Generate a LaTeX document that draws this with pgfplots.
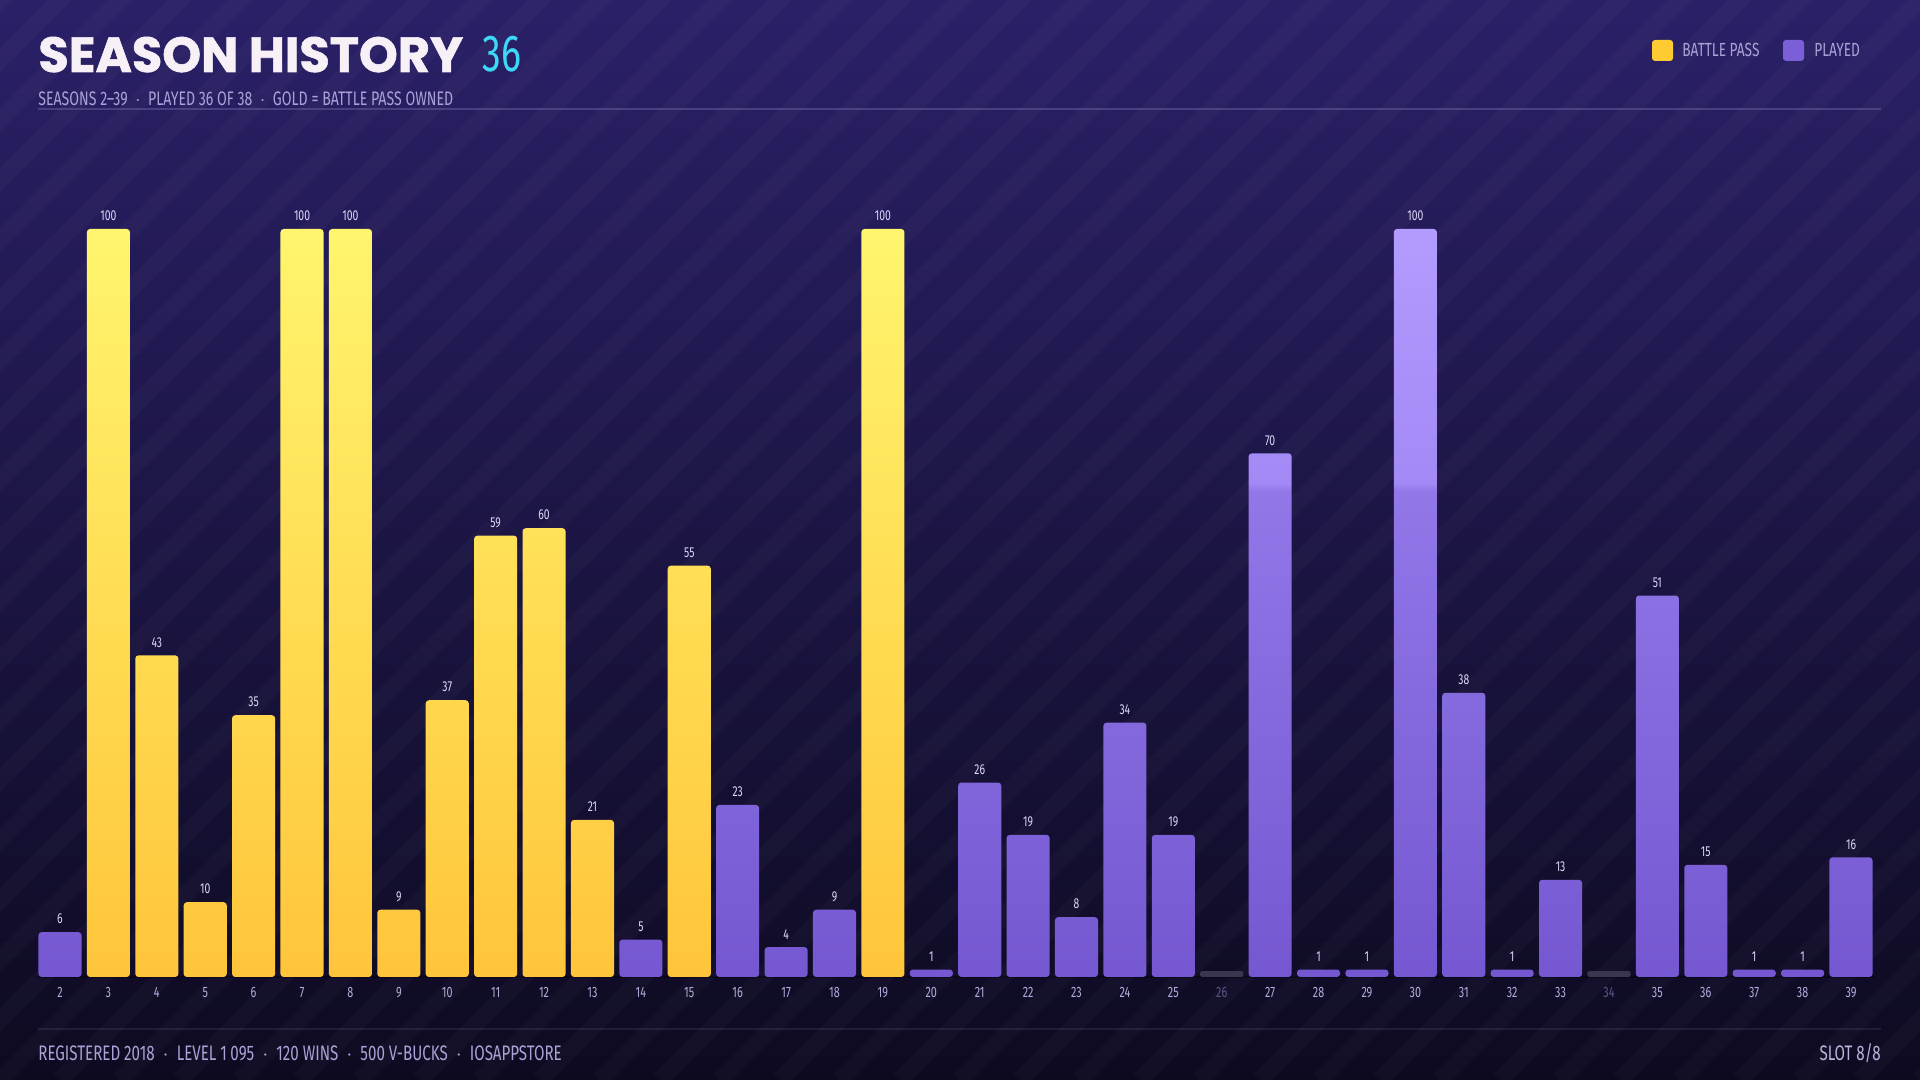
\documentclass[border=0pt]{standalone}
\usepackage{pgfplots}
\pgfplotsset{compat=1.18}
\usepackage{fontspec}
\setmainfont{Fira Sans}
\newfontfamily\cond{Fira Sans}[FakeStretch=0.72]
\newfontfamily\titlefont{Poppins}[FakeBold=1.2]
\definecolor{bgtop}{HTML}{2A2068}
\definecolor{bgbot}{HTML}{0D0A20}
\definecolor{goldT}{HTML}{FFF56E}
\definecolor{goldB}{HTML}{FFC53A}
\definecolor{purT}{HTML}{B39BFF}
\definecolor{purM}{HTML}{A389F5}
\definecolor{purL}{HTML}{9177E8}
\definecolor{purB}{HTML}{7558D1}
\definecolor{cyanT}{HTML}{3DD8F5}
\definecolor{subtxt}{HTML}{A9A2D6}
\definecolor{ticktxt}{HTML}{B3ACDB}
\definecolor{dimtxt}{HTML}{5C5685}
\definecolor{valtxt}{HTML}{DCD6F7}
\definecolor{legG}{HTML}{FFCB33}
\definecolor{legP}{HTML}{7B5FD8}
\definecolor{unplayed}{HTML}{3A3550}
\pgfdeclareverticalshading{purplebar}{100bp}{color(0bp)=(purB); color(25bp)=(purB); color(57.5bp)=(purL); color(58bp)=(purM); color(75bp)=(purT); color(100bp)=(purT)}
\pgfdeclareverticalshading{goldbar}{100bp}{color(0bp)=(goldB); color(25bp)=(goldB); color(75bp)=(goldT); color(100bp)=(goldT)}
\begin{document}
\begin{tikzpicture}
\useasboundingbox (0,0) rectangle (960pt,540pt);
\fill[top color=bgtop, bottom color=bgbot] (0,0) rectangle (960pt,540pt);
\begin{scope}
\clip (0,0) rectangle (960pt,540pt);
\foreach \i in {-20,...,34} {
  \draw[white, opacity=0.025, line width=9pt] (\i*30pt,0) -- ++(560pt,560pt);
}
\end{scope}
% header
\node[anchor=base west, inner sep=0, text=white!94!violet] at (19pt,504pt) {\titlefont\bfseries\fontsize{24.7}{25}\selectfont SEASON HISTORY};
\node[anchor=base west, inner sep=0, text=cyanT] at (241pt,504pt) {\cond\fontsize{26}{26}\selectfont 36};
\node[anchor=base west, inner sep=0, text=subtxt] at (19pt,487pt) {\cond\fontsize{9.8}{10}\selectfont SEASONS 2–39 \ $\cdot$ \ PLAYED 36 OF 38 \ $\cdot$ \ GOLD = BATTLE PASS OWNED};
\draw[subtxt, opacity=0.25, line width=0.6pt] (19pt,485.5pt) -- (940.5pt,485.5pt);
% legend
\fill[legG, rounded corners=1.5pt] (826pt,509.5pt) rectangle (836.5pt,520pt);
\node[anchor=west, inner sep=0, text=subtxt] at (841pt,515pt) {\cond\fontsize{9.5}{10}\selectfont BATTLE PASS};
\fill[legP, rounded corners=1.5pt] (891.5pt,509.5pt) rectangle (902pt,520pt);
\node[anchor=west, inner sep=0, text=subtxt] at (907pt,515pt) {\cond\fontsize{9.5}{10}\selectfont PLAYED};
% footer
\draw[subtxt, opacity=0.12, line width=0.6pt] (19pt,25.5pt) -- (940.5pt,25.5pt);
\node[anchor=west, inner sep=0, text=subtxt] at (19pt,13.5pt) {\cond\fontsize{10.5}{11}\selectfont REGISTERED 2018 \ $\cdot$ \ LEVEL 1\,095 \ $\cdot$ \ 120 WINS \ $\cdot$ \ 500 V-BUCKS \ $\cdot$ \ IOSAPPSTORE};
\node[anchor=east, inner sep=0, text=subtxt!80] at (940.5pt,13.5pt) {\cond\fontsize{10.5}{11}\selectfont SLOT 8/8};
\begin{axis}[
  at={(17.9pt,51.5pt)}, anchor=south west,
  scale only axis, width=919.7pt, height=374pt,
  xmin=1.5, xmax=39.5, ymin=0, ymax=100,
  clip=false,
  axis x line=bottom, axis y line=none,
  axis line style={draw=black, opacity=0.35, line width=1pt, -},
  ybar, bar width=0.89, bar shift=0pt,
  xtick={2,...,39},
  xticklabels={2,3,4,5,6,7,8,9,10,11,12,13,14,15,16,17,18,19,20,21,22,23,24,25,\textcolor{dimtxt}{26},27,28,29,30,31,32,33,\textcolor{dimtxt}{34},35,36,37,38,39},
  major tick length=0pt,
  xticklabel style={text=ticktxt, font=\cond\fontsize{7.5}{8}\selectfont, yshift=-1.5pt},
  ytick=\empty,
  /pgf/number format/assume math mode=true,
  nodes near coords,
  every node near coord/.append style={text=valtxt, font=\cond\fontsize{7.2}{7.2}\selectfont, yshift=0.5pt},
]
\addplot[draw=none, shade, shading=goldbar, rounded corners=1.6pt] coordinates {
(3,100) (4,43) (5,10) (6,35) (7,100) (8,100) (9,9) (10,37) (11,59) (12,60) (13,21) (15,55) (19,100)
};
\addplot[draw=none, shade, shading=purplebar, rounded corners=1.6pt] coordinates {
(2,6) (14,5) (16,23) (17,4) (18,9) (20,1) (21,26) (22,19) (23,8) (24,34) (25,19) (27,70) (28,1) (29,1) (30,100) (31,38) (32,1) (33,13) (35,51) (36,15) (37,1) (38,1) (39,16)
};
\addplot[draw=none, fill=unplayed, rounded corners=1pt, nodes near coords=\empty] coordinates {
(26,0.8) (34,0.8)
};
\end{axis}
\end{tikzpicture}
\end{document}
